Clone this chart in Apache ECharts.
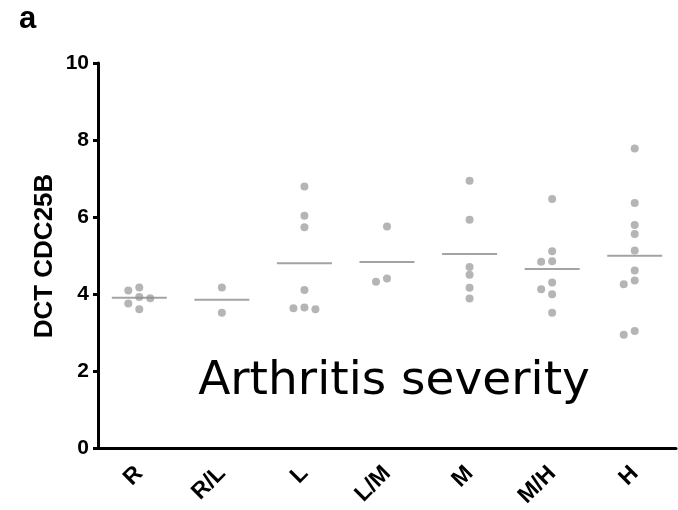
<!DOCTYPE html>
<html>
<head>
<meta charset="utf-8">
<script src="https://cdn.jsdelivr.net/npm/echarts@6/dist/echarts.min.js"></script>
<style>
  html, body { margin: 0; padding: 0; background: #fff; }
  #chart { width: 678px; height: 510px; }
</style>
</head>
<body>
<div id="chart"></div>
<script>
// categories (arthritis severity)
var categories = ['R', 'R/L', 'L', 'L/M', 'M', 'M/H', 'H'];
// y axis ticks
var yTicks = [0, 2, 4, 6, 8, 10];

// DCT values per group
var valR  = [4.17, 4.09, 3.92, 3.89, 3.75, 3.60];
var valRL = [4.17, 3.51];
var valL  = [6.79, 6.03, 5.73, 4.10, 3.65, 3.63, 3.60];
var valLM = [5.75, 4.40, 4.32];
var valM  = [6.94, 5.93, 4.70, 4.50, 4.16, 3.88];
var valMH = [6.47, 5.11, 4.85, 4.84, 4.30, 4.12, 3.99, 3.51];
var valH  = [7.78, 6.36, 5.79, 5.56, 5.13, 4.61, 4.35, 4.25, 3.04, 2.94];
// group means (horizontal bars)
var means = [3.90, 3.85, 4.80, 4.83, 5.04, 4.65, 4.99];

var groups = [valR, valRL, valL, valLM, valM, valMH, valH];

// simple beeswarm so dots with close values sit side by side
function swarm(vals, idx) {
    var placed = [];
    var out = [];
    var slots = [0, -1, 1, -2, 2];
    vals.slice().sort(function (a, b) { return b - a; }).forEach(function (v) {
        for (var k = 0; k < slots.length; k++) {
            var s = slots[k];
            var hit = placed.some(function (p) { return p.s === s && Math.abs(p.v - v) < 0.2; });
            if (!hit) {
                placed.push({ s: s, v: v });
                out.push([idx + s * 0.133, v]);
                break;
            }
        }
    });
    return out;
}

var dots = [];
groups.forEach(function (g, i) { dots = dots.concat(swarm(g, i)); });
var meanData = means.map(function (m, i) { return [i, m]; });

var myChart = echarts.init(document.getElementById('chart'));
var font = 'Arial, "Liberation Sans", sans-serif';
var option = {
    animation: false,
    grid: { left: 98, right: 2, top: 63, bottom: 62 },
    xAxis: [
        {
            type: 'category',
            data: categories,
            boundaryGap: true,
            axisLine: { lineStyle: { color: '#000', width: 3 } },
            axisTick: { alignWithLabel: true, length: 6, lineStyle: { color: '#000', width: 3 } },
            axisLabel: {
                rotate: 45, color: '#000', fontSize: 23, fontWeight: 'bold',
                fontFamily: font, margin: 22
            }
        },
        {
            type: 'value', min: -0.5, max: 6.5, show: false
        }
    ],
    yAxis: {
        type: 'value',
        min: 0, max: 10, interval: 2,
        splitLine: { show: false },
        axisLine: { show: true, onZero: false, lineStyle: { color: '#000', width: 3 } },
        axisTick: { show: true, length: 5, lineStyle: { color: '#000', width: 3 } },
        axisLabel: {
            color: '#000', fontSize: 21, fontWeight: 'bold', fontFamily: font, margin: 9,
            formatter: function (v) { return yTicks.indexOf(v) >= 0 ? String(v) : ''; }
        }
    },
    graphic: [
        {
            type: 'text', left: 19, top: 4,
            style: { text: 'a', font: 'bold 31px ' + font, fill: '#000' }
        },
        {
            type: 'text', x: 45, y: 256, rotation: Math.PI / 2,
            style: {
                text: 'DCT CDC25B', font: 'bold 26px ' + font, fill: '#000',
                textAlign: 'center', textVerticalAlign: 'middle'
            }
        },
        {
            type: 'text', x: 394, y: 382,
            style: {
                text: 'Arthritis severity',
                font: '47px "Comic Sans MS", "DejaVu Sans", sans-serif', fill: '#000',
                textAlign: 'center', textVerticalAlign: 'middle'
            }
        }
    ],
    series: [
        {
            type: 'scatter',
            xAxisIndex: 1,
            data: dots,
            symbol: 'circle',
            symbolSize: 8,
            itemStyle: { color: '#a3a3a3' }
        },
        {
            type: 'scatter',
            xAxisIndex: 1,
            data: meanData,
            symbol: 'rect',
            symbolSize: [55, 2],
            itemStyle: { color: '#8c8c8c' }
        }
    ]
};
if (option && typeof option === "object") {
    myChart.setOption(option, true);
}
</script>
</body>
</html>
